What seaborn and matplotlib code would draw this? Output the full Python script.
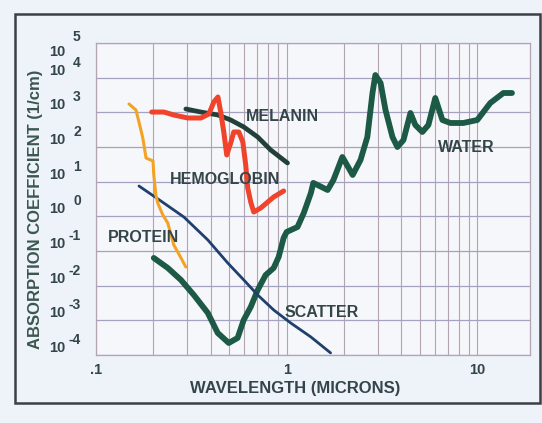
import numpy as np
import pandas as pd
import matplotlib
matplotlib.use("Agg")
import matplotlib.pyplot as plt
import matplotlib.transforms as mtransforms
from matplotlib.patches import Rectangle
from matplotlib.ticker import FixedLocator, LogLocator, NullLocator, NullFormatter
import seaborn as sns

# ---- absorption spectra (wavelength in microns, absorption in 1/cm) ----
protein_wl = [0.149, 0.162, 0.168, 0.176, 0.183, 0.199, 0.201, 0.206, 0.211,
              0.224, 0.238, 0.256, 0.272, 0.296]
protein_abs = [1740, 1170, 526, 182, 48, 39.5, 15.6, 4.1, 2.4, 1.1, 0.64,
               0.149, 0.082, 0.0346]

hemo_wl = [0.196, 0.227, 0.256, 0.303, 0.355, 0.391, 0.415, 0.436, 0.451,
           0.468, 0.485, 0.509, 0.528, 0.561, 0.589, 0.610, 0.625, 0.648,
           0.672, 0.731, 0.855, 0.964]
hemo_abs = [1020, 1020, 838, 687, 687, 896, 1990, 2770, 1020, 271, 58.9,
            131, 271, 271, 140, 30.3, 6.58, 2.59, 1.33, 1.74, 3.61, 5.38]

melanin_wl = [0.296, 0.355, 0.436, 0.509, 0.596, 0.705, 0.825, 1.01]
melanin_abs = [1250, 1020, 838, 601, 378, 194, 82, 34.6]

scatter_wl = [0.168, 0.219, 0.289, 0.386, 0.491, 0.596, 0.705, 0.855, 1.05,
              1.34, 1.70]
scatter_abs = [7.5, 2.77, 0.957, 0.208, 0.0451, 0.0146, 0.00538, 0.00199,
               0.00084, 0.000331, 0.000115]

water_wl = [0.201, 0.238, 0.279, 0.326, 0.386, 0.435, 0.497, 0.553, 0.595,
            0.648, 0.705, 0.776, 0.855, 0.908, 0.964, 1.0, 1.14, 1.23, 1.34,
            1.38, 1.64, 1.76, 1.96, 2.22, 2.44, 2.65, 2.82, 2.92, 3.11, 3.30,
            3.59, 3.81, 4.10, 4.46, 4.73, 5.15, 5.54, 6.02, 6.56, 7.22, 8.45,
            10.0, 11.7, 13.7, 15.2]
water_abs = [0.063, 0.0324, 0.0146, 0.00538, 0.00163, 0.000432, 0.000222,
             0.00031, 0.00102, 0.00243, 0.0075, 0.0203, 0.0324, 0.0673, 0.238,
             0.354, 0.493, 1.25, 4.71, 9.2, 5.75, 11.2, 51.5, 15.6, 42.2, 194,
             3610, 11900, 7020, 1170, 194, 100, 159, 957, 432, 271, 432, 2590,
             601, 493, 493, 601, 1860, 3610, 3610]

x_ticks = [0.1, 1, 10]
x_tick_labels = [".1", "1", "10"]
y_exponents = [5, 4, 3, 2, 1, 0, -1, -2, -3, -4]

# curve name labels: (text, wavelength, absorption)
curve_labels = [("MELANIN", 0.947, 735), ("HEMOGLOBIN", 0.473, 11.2),
                ("PROTEIN", 0.177, 0.238), ("SCATTER", 1.53, 0.00163),
                ("WATER", 8.75, 100)]

BG = "#eef2f9"
PANEL = "#f6f7fa"
INK = "#34454a"
GRID_V = "#b3a4b4"
GRID_H = "#a4a2bf"

sns.set_theme(style="white")
plt.rcParams["font.family"] = ["Liberation Sans", "DejaVu Sans"]
plt.rcParams["font.weight"] = "bold"

fig = plt.figure(figsize=(5.42, 4.23), dpi=100, facecolor=BG)
ax = fig.add_axes([96 / 542, 68 / 423, 434 / 542, 312 / 423])
ax.set_facecolor(PANEL)
ax.set_xscale("log")
ax.set_yscale("log")

series = [
    (water_wl, water_abs, "#1d5a46", 4.2),
    (scatter_wl, scatter_abs, "#1f3f6c", 2.0),
    (protein_wl, protein_abs, "#f2a323", 2.2),
    (melanin_wl, melanin_abs, "#22403a", 3.4),
    (hemo_wl, hemo_abs, "#f0432b", 3.6),
]
for wl, ab, col, lw in series:
    df = pd.DataFrame({"wavelength": wl, "absorption": ab})
    sns.lineplot(data=df, x="wavelength", y="absorption", ax=ax, color=col,
                 lw=lw, sort=False, estimator=None,
                 solid_capstyle="round", solid_joinstyle="round")

ax.set_xlim(0.1, 18.9)
ax.set_ylim(1e-4, 1e5)

# log grid: every integer multiple in x, decades in y
ax.xaxis.set_major_locator(FixedLocator(x_ticks))
ax.xaxis.set_minor_locator(LogLocator(base=10, subs=np.arange(2, 10)))
ax.xaxis.set_minor_formatter(NullFormatter())
ax.set_xticklabels(x_tick_labels)
ax.yaxis.set_major_locator(FixedLocator([10.0 ** e for e in y_exponents]))
ax.yaxis.set_minor_locator(NullLocator())
ax.tick_params(axis="y", which="both", length=0, labelleft=False)
ax.tick_params(axis="x", which="both", length=0, pad=6,
               labelsize=10.5, labelcolor=INK)
for lbl in ax.get_xticklabels():
    lbl.set_fontweight("bold")
ax.grid(True, axis="x", which="both", color=GRID_V, lw=0.8)
ax.grid(True, axis="y", which="major", color=GRID_H, lw=0.9)
for sp in ax.spines.values():
    sp.set_color(GRID_V)
    sp.set_linewidth(0.9)
ax.set_xlabel("")
ax.set_ylabel("")

# y tick labels written as "10" with a raised exponent
blend = mtransforms.blended_transform_factory(ax.transAxes, ax.transData)
for e in y_exponents:
    base_dy, exp_dy = (7, 15) if e != 5 else (-9, 6)
    t_base = mtransforms.offset_copy(blend, fig=fig, x=0, y=base_dy, units="dots")
    t_exp = mtransforms.offset_copy(blend, fig=fig, x=0, y=exp_dy, units="dots")
    ax.text(-0.071, 10.0 ** e, "10", transform=t_base, ha="right", va="center",
            fontsize=10.5, fontweight="bold", color=INK)
    ax.text(-0.035, 10.0 ** e, str(e), transform=t_exp, ha="right", va="center",
            fontsize=10, fontweight="bold", color=INK)

for text, wl, ab in curve_labels:
    ax.text(wl, ab, text, ha="center", va="center", fontsize=11.5,
            fontweight="bold", color=INK)

fig.text(295 / 542, 1 - 388 / 423, "WAVELENGTH (MICRONS)", ha="center",
         va="center", fontsize=12, fontweight="bold", color=INK)
fig.text(36 / 542, 1 - 209 / 423, "ABSORPTION COEFFICIENT (1/cm)",
         rotation=90, ha="center", va="center", fontsize=12,
         fontweight="bold", color="#3a574f")

# surrounding frame
fig.add_artist(Rectangle((15 / 542, 20 / 423), 525 / 542, 389 / 423,
                         transform=fig.transFigure, fill=False,
                         ec="#3b4044", lw=1.8))

fig.savefig("out.png", dpi=100, facecolor=BG)
